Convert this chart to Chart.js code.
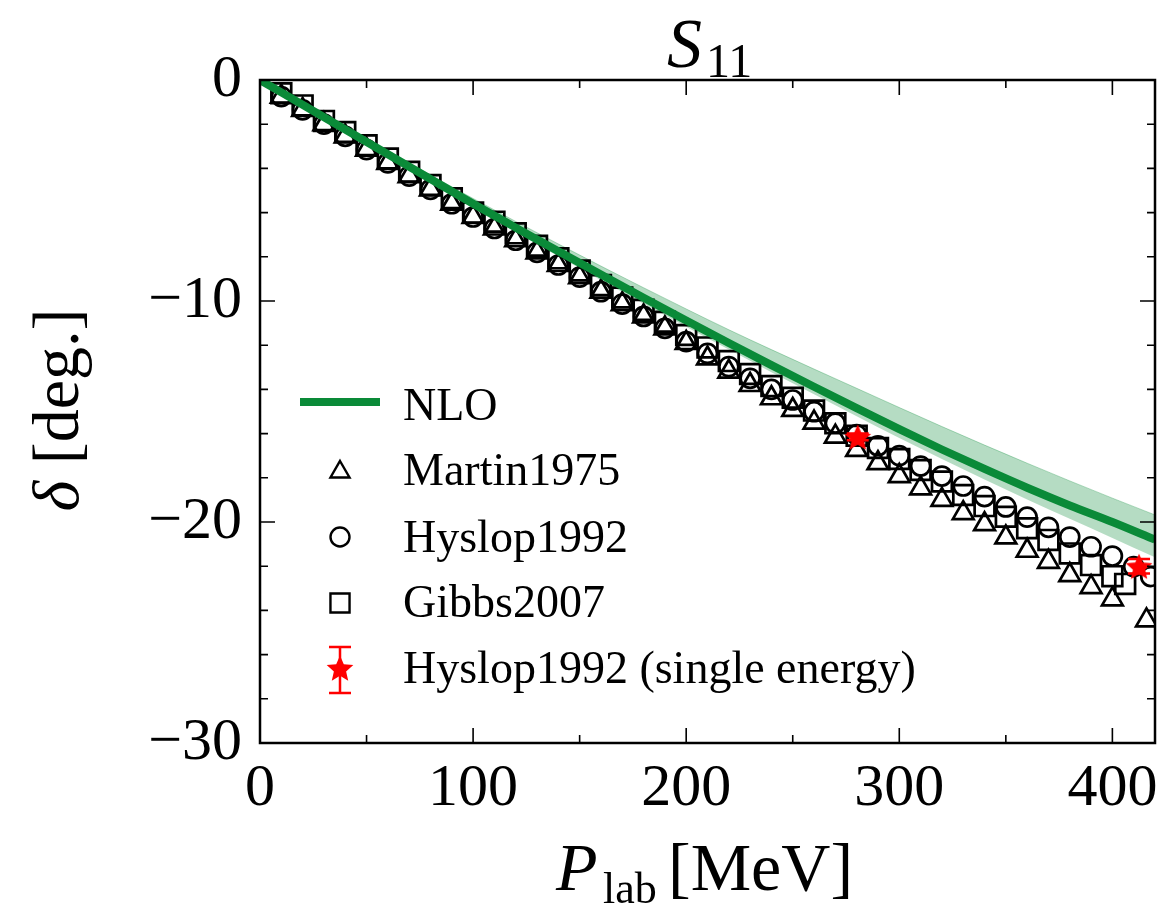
<!DOCTYPE html>
<html>
<head>
<meta charset="utf-8">
<title>S11 phase shift</title>
<script src="https://cdn.jsdelivr.net/npm/chart.js@4.4.0/dist/chart.umd.min.js"></script>
<style>
  html, body { margin: 0; padding: 0; background: #fff; }
  #wrap { width: 1163px; height: 913px; }
</style>
</head>
<body>
<div id="wrap"><canvas id="chart" width="1163" height="913"></canvas></div>
<script>
// NLO curve and its band (P_lab in MeV, delta in deg)
const nloP     = [0, 20, 40, 60, 80, 100, 120, 140, 160, 180, 200, 220, 240, 260, 280, 300, 320, 340, 360, 380, 400, 420];
const nloDelta = [0, -1.12, -2.24, -3.36, -4.48, -5.6, -6.68, -7.75, -8.8, -9.85, -10.88, -11.9, -12.9, -13.88, -14.85, -15.8, -16.72, -17.6, -18.45, -19.25, -20.0, -20.8];
const bandLow  = [0, -1.16, -2.32, -3.48, -4.62, -5.76, -6.88, -7.98, -9.06, -10.12, -11.16, -12.2, -13.22, -14.22, -15.22, -16.2, -17.15, -18.08, -18.98, -19.85, -20.72, -21.6];
const bandHigh = [0, -1.08, -2.16, -3.22, -4.3, -5.36, -6.4, -7.42, -8.42, -9.4, -10.36, -11.3, -12.2, -13.08, -13.95, -14.82, -15.68, -16.52, -17.34, -18.14, -18.92, -19.68];

// Martin1975 (triangles)
const martinP = [10, 20, 30, 40, 50, 60, 70, 80, 90, 100, 110, 120, 130, 140, 150, 160, 170, 180, 190, 200,
                 210, 220, 230, 240, 250, 260, 270, 280, 290, 300, 310, 320, 330, 340, 350, 360, 370, 380, 390, 400, 416];
const martinDelta = [-0.75, -1.35, -2.0, -2.55, -3.15, -3.75, -4.35, -4.95, -5.6, -6.2, -6.72, -7.25, -7.8, -8.37, -8.92, -9.58, -10.14, -10.7, -11.24, -11.9,
                     -12.6, -13.2, -13.8, -14.4, -14.93, -15.5, -16.14, -16.74, -17.34, -17.92, -18.48, -19.0, -19.6, -20.1, -20.7, -21.3, -21.8, -22.4, -22.95, -23.5, -24.45];

// Hyslop1992 (circles)
const hyslopP = [10, 20, 30, 40, 50, 60, 70, 80, 90, 100, 110, 120, 130, 140, 150, 160, 170, 180, 190, 200,
                 210, 220, 230, 240, 250, 260, 270, 280, 290, 300, 310, 320, 330, 340, 350, 360, 370, 380, 390, 400, 410, 418];
const hyslopDelta = [-0.75, -1.35, -2.0, -2.55, -3.15, -3.75, -4.35, -4.95, -5.6, -6.2, -6.72, -7.25, -7.8, -8.37, -8.92, -9.58, -10.14, -10.7, -11.24, -11.84,
                     -12.37, -12.97, -13.5, -14.0, -14.48, -15.01, -15.53, -16.05, -16.55, -17.0, -17.47, -17.92, -18.37, -18.85, -19.32, -19.78, -20.24, -20.68, -21.12, -21.54, -22.02, -22.47];

// Gibbs2007 (squares)
const gibbsP = [10, 20, 30, 40, 50, 60, 70, 80, 90, 100, 110, 120, 130, 140, 150, 160, 170, 180, 190, 200,
                210, 220, 230, 240, 250, 260, 270, 280, 290, 300, 310, 320, 330, 340, 350, 360, 370, 380, 390, 400, 406];
const gibbsDelta = [-0.6, -1.15, -1.85, -2.35, -2.95, -3.55, -4.15, -4.75, -5.35, -6.0, -6.41, -6.94, -7.5, -8.07, -8.62, -9.28, -9.84, -10.4, -10.94, -11.54,
                    -12.1, -12.72, -13.3, -13.85, -14.38, -14.96, -15.53, -16.1, -16.65, -17.15, -17.65, -18.17, -18.78, -19.28, -19.76, -20.28, -20.81, -21.42, -21.95, -22.45, -22.8];

// Hyslop1992 single energy (stars with error bars)
const singleP = [280.5, 412.5];
const singleDelta = [-16.15, -22.0];
const singleErr = [0.15, 0.33];

// axis ticks
const xTicks = [0, 100, 200, 300, 400];
const xMinor = [50, 150, 250, 350];
const yTicks = [0, -10, -20, -30];
const yMinor = [-2, -4, -6, -8, -12, -14, -16, -18, -22, -24, -26, -28];

const GREEN = '#0a8a38';
const BAND = 'rgba(10,138,56,0.3)';
const RED = '#ff0000';
const SERIF = '"Liberation Serif", "DejaVu Serif", serif';

const pts = (xs, ys) => xs.map((x, i) => ({ x: x, y: ys[i] }));

// filled five point star used as point style
function makeStar(r) {
  const c = document.createElement('canvas');
  const s = Math.ceil(r * 2 + 4);
  c.width = s; c.height = s;
  const g = c.getContext('2d');
  const inner = r * 0.46;
  g.beginPath();
  for (let i = 0; i < 10; i++) {
    const rr = i % 2 === 0 ? r : inner;
    const a = -Math.PI / 2 + i * Math.PI / 5;
    const px = s / 2 + rr * Math.cos(a), py = s / 2 + rr * Math.sin(a) + r * 0.1;
    if (i === 0) g.moveTo(px, py); else g.lineTo(px, py);
  }
  g.closePath();
  g.fillStyle = RED;
  g.fill();
  return c;
}
const starImg = makeStar(14);

const minusLabel = v => (v < 0 ? '\u2212' + Math.abs(v) : String(v));

// error bars under the star markers
const errorBars = {
  id: 'errorBars',
  beforeDatasetDraw(chart, args) {
    if (chart.data.datasets[args.index].label !== 'single') return;
    const ctx = chart.ctx, xs = chart.scales.x, ys = chart.scales.y;
    ctx.save();
    ctx.strokeStyle = RED;
    ctx.lineWidth = 2.5;
    singleP.forEach((p, i) => {
      const x = xs.getPixelForValue(p);
      const y1 = ys.getPixelForValue(singleDelta[i] - singleErr[i]);
      const y2 = ys.getPixelForValue(singleDelta[i] + singleErr[i]);
      ctx.beginPath();
      ctx.moveTo(x, y1); ctx.lineTo(x, y2);
      ctx.moveTo(x - 11, y1); ctx.lineTo(x + 11, y1);
      ctx.moveTo(x - 11, y2); ctx.lineTo(x + 11, y2);
      ctx.stroke();
    });
    ctx.restore();
  }
};

// frame with inward ticks on all four sides
const frame = {
  id: 'frame',
  afterDatasetsDraw(chart) {
    const ctx = chart.ctx, a = chart.chartArea, xs = chart.scales.x, ys = chart.scales.y;
    ctx.save();
    ctx.strokeStyle = '#000';
    ctx.lineWidth = 1.6;
    const tick = (vals, len) => {
      vals.forEach(v => {
        const x = xs.getPixelForValue(v);
        ctx.beginPath();
        ctx.moveTo(x, a.bottom); ctx.lineTo(x, a.bottom - len);
        ctx.moveTo(x, a.top); ctx.lineTo(x, a.top + len);
        ctx.stroke();
      });
    };
    const ytick = (vals, len) => {
      vals.forEach(v => {
        const y = ys.getPixelForValue(v);
        ctx.beginPath();
        ctx.moveTo(a.left, y); ctx.lineTo(a.left + len, y);
        ctx.moveTo(a.right, y); ctx.lineTo(a.right - len, y);
        ctx.stroke();
      });
    };
    tick(xTicks, 15); tick(xMinor, 8);
    ytick(yTicks, 15); ytick(yMinor, 8);
    ctx.lineWidth = 2.5;
    ctx.strokeRect(a.left, a.top, a.right - a.left, a.bottom - a.top);
    ctx.restore();
  }
};

// title, axis titles and legend
const texts = {
  id: 'texts',
  afterDraw(chart) {
    const ctx = chart.ctx;
    const H = Chart.helpers;
    ctx.save();
    ctx.fillStyle = '#000';
    ctx.textBaseline = 'alphabetic';

    // title S_11
    ctx.font = 'italic 70px ' + SERIF;
    ctx.fillText('S', 667, 67);
    ctx.font = '48px ' + SERIF;
    ctx.fillText('11', 706, 77);

    // x title P_lab [MeV]
    ctx.font = 'italic 68px ' + SERIF;
    ctx.fillText('P', 556, 890);
    ctx.font = '44px ' + SERIF;
    ctx.fillText('lab', 603, 903);
    ctx.font = '68px ' + SERIF;
    ctx.fillText('[MeV]', 668, 890);

    // y title delta [deg.]
    ctx.save();
    ctx.translate(78, 410);
    ctx.rotate(-Math.PI / 2);
    ctx.font = 'italic 66px ' + SERIF;
    const w1 = ctx.measureText('\u03b4 ').width;
    ctx.font = '66px ' + SERIF;
    const w2 = ctx.measureText('[deg.]').width;
    const x0 = -(w1 + w2) / 2;
    ctx.font = 'italic 66px ' + SERIF;
    ctx.fillText('\u03b4', x0, 0);
    ctx.font = '66px ' + SERIF;
    ctx.fillText('[deg.]', x0 + w1, 0);
    ctx.restore();

    // legend
    ctx.font = '46px ' + SERIF;
    ctx.strokeStyle = GREEN;
    ctx.lineWidth = 8;
    ctx.beginPath();
    ctx.moveTo(300, 402); ctx.lineTo(380, 402);
    ctx.stroke();
    ctx.fillText('NLO', 403, 420);

    ctx.strokeStyle = '#000';
    ctx.fillStyle = 'rgba(0,0,0,0)';
    ctx.lineWidth = 2.4;
    H.drawPoint(ctx, { pointStyle: 'triangle', radius: 11, rotation: 0, borderWidth: 2.4 }, 340, 472);
    H.drawPoint(ctx, { pointStyle: 'circle', radius: 9.5, rotation: 0, borderWidth: 2.4 }, 340, 537);
    H.drawPoint(ctx, { pointStyle: 'rect', radius: 13.5, rotation: 0, borderWidth: 2.4 }, 340, 603);

    ctx.strokeStyle = RED;
    ctx.lineWidth = 2.5;
    ctx.beginPath();
    ctx.moveTo(340, 647); ctx.lineTo(340, 693);
    ctx.moveTo(329, 647); ctx.lineTo(351, 647);
    ctx.moveTo(329, 693); ctx.lineTo(351, 693);
    ctx.stroke();
    ctx.drawImage(starImg, 340 - starImg.width / 2, 668 - starImg.height / 2);

    ctx.fillStyle = '#000';
    ctx.fillText('Martin1975', 403, 485);
    ctx.fillText('Hyslop1992', 403, 552);
    ctx.fillText('Gibbs2007', 403, 617);
    ctx.fillText('Hyslop1992 (single energy)', 403, 683);
    ctx.restore();
  }
};

const markerSet = (label, xs, ys, style, radius, order) => ({
  label: label,
  data: pts(xs, ys),
  showLine: false,
  pointStyle: style,
  pointRadius: radius,
  pointBorderWidth: 2.7,
  pointBorderColor: '#000',
  pointBackgroundColor: 'rgba(0,0,0,0)',
  clip: 0,
  order: order
});

new Chart(document.getElementById('chart'), {
  type: 'scatter',
  data: {
    datasets: [
      { label: 'bandLow', data: pts(nloP, bandLow), showLine: true, borderWidth: 0, pointRadius: 0,
        cubicInterpolationMode: 'monotone', fill: false, clip: 0, order: 7 },
      { label: 'bandHigh', data: pts(nloP, bandHigh), showLine: true, borderWidth: 1, borderColor: BAND,
        backgroundColor: BAND, pointRadius: 0, cubicInterpolationMode: 'monotone', fill: '-1', clip: 0, order: 6 },
      markerSet('Martin1975', martinP, martinDelta, 'triangle', 12, 5),
      markerSet('Hyslop1992', hyslopP, hyslopDelta, 'circle', 9.5, 4),
      markerSet('Gibbs2007', gibbsP, gibbsDelta, 'rect', 14, 3),
      { label: 'NLO', data: pts(nloP, nloDelta), showLine: true, borderColor: GREEN, borderWidth: 8,
        pointRadius: 0, cubicInterpolationMode: 'monotone', fill: false, clip: 0, order: 2 },
      { label: 'single', data: pts(singleP, singleDelta), showLine: false, pointStyle: starImg,
        pointRadius: 14, clip: 0, order: 1 }
    ]
  },
  options: {
    responsive: false,
    animation: false,
    events: [],
    layout: { autoPadding: false, padding: { top: 80, right: 8, bottom: 0, left: 0 } },
    plugins: { legend: { display: false }, tooltip: { enabled: false }, title: { display: false } },
    scales: {
      x: {
        type: 'linear', min: 0, max: 420,
        afterBuildTicks: s => { s.ticks = xTicks.map(v => ({ value: v })); },
        afterFit: s => { s.height = 170; s.paddingLeft = 0; s.paddingRight = 0; },
        grid: { display: false, drawTicks: false },
        border: { display: false },
        ticks: { color: '#000', padding: 10, maxRotation: 0, font: { family: SERIF, size: 60 }, callback: minusLabel }
      },
      y: {
        type: 'linear', min: -30, max: 0,
        afterBuildTicks: s => { s.ticks = yTicks.map(v => ({ value: v })); },
        afterFit: s => { s.width = 260; s.paddingTop = 0; s.paddingBottom = 0; },
        grid: { display: false, drawTicks: false },
        border: { display: false },
        ticks: { color: '#000', padding: 18, font: { family: SERIF, size: 60 }, callback: minusLabel }
      }
    }
  },
  plugins: [errorBars, frame, texts]
});
</script>
</body>
</html>
